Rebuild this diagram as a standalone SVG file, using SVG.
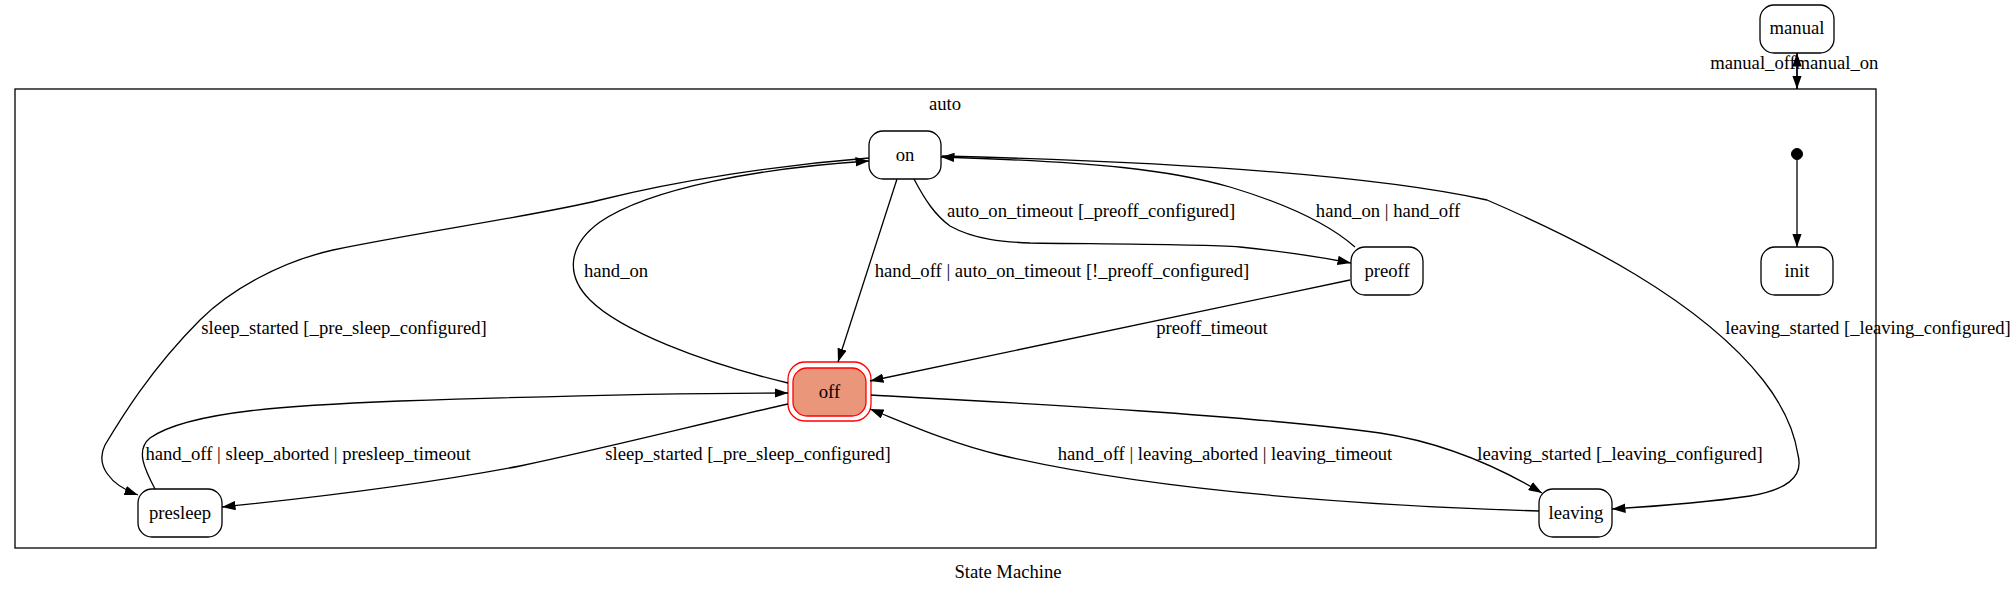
<svg xmlns="http://www.w3.org/2000/svg" width="2015" height="595" viewBox="0 0 2015 595">
<style>
text{font-family:"Liberation Serif","Times New Roman",serif;font-size:18.67px;fill:#000;text-anchor:middle}
.node{fill:#fff;stroke:#000;stroke-width:1.3}
.edge{fill:none;stroke:#000;stroke-width:1.3}
.cluster{fill:none;stroke:#000;stroke-width:1.3}
</style>
<defs>
<marker id="ah" viewBox="0 0 10 10" refX="10" refY="5" markerUnits="userSpaceOnUse" markerWidth="13.5" markerHeight="9.5" orient="auto" preserveAspectRatio="none">
<path d="M0,0 L10,5 L0,10 z" fill="#000"/>
</marker>
</defs>
<rect width="2015" height="595" fill="#fff"/>
<text x="1008" y="578">State Machine</text>

<g id="cluster_auto">
<rect class="cluster" x="15" y="89" width="1861" height="459"/>
<text x="945" y="110">auto</text>
</g>

<g id="manual"><rect class="node" x="1760" y="5" width="74" height="48" rx="14"/><text x="1797" y="34">manual</text></g>
<g id="start"><circle cx="1797" cy="154" r="5.5" fill="#000" stroke="#000"/></g>
<g id="init"><rect class="node" x="1761" y="247" width="72" height="48" rx="14"/><text x="1797" y="277">init</text></g>
<g id="on"><rect class="node" x="869" y="131" width="72" height="48" rx="14"/><text x="905" y="161">on</text></g>
<g id="preoff"><rect class="node" x="1351" y="247" width="72" height="48" rx="14"/><text x="1387" y="277">preoff</text></g>
<g id="off">
<rect x="788" y="362" width="83" height="59" rx="17" fill="none" stroke="#ff0000" stroke-width="1.3"/>
<rect x="793" y="368" width="73" height="48" rx="14" fill="#e9967a" stroke="#ff0000" stroke-width="1.3"/>
<text x="829.5" y="398">off</text>
</g>
<g id="presleep"><rect class="node" x="138" y="489" width="84" height="48" rx="14"/><text x="180" y="519">presleep</text></g>
<g id="leaving"><rect class="node" x="1539" y="489" width="73" height="48" rx="14"/><text x="1576" y="519">leaving</text></g>

<g id="edges">
<path class="edge" d="M1797,160 L1797,247" marker-end="url(#ah)"/>
<path class="edge" d="M1797,89 L1797,53" marker-end="url(#ah)"/>
<path class="edge" d="M1797,53 L1797,89" marker-end="url(#ah)"/>
<text x="1753" y="69">manual_off</text>
<text x="1837" y="69">manual_on</text>

<path class="edge" d="M897,179 L838,362" marker-end="url(#ah)"/>
<text x="1062" y="277">hand_off | auto_on_timeout [!_preoff_configured]</text>

<path class="edge" d="M914,179 C925,200 935,215 950,226 C975,240 1005,242 1030,243 C1100,244 1200,244 1240,247 C1280,251 1320,257 1351,263" marker-end="url(#ah)"/>
<text x="1091" y="217">auto_on_timeout [_preoff_configured]</text>

<path class="edge" d="M1355,247 C1330,225 1290,205 1230,187 C1170,170 1100,162 941,157" marker-end="url(#ah)"/>
<text x="1388" y="217">hand_on | hand_off</text>

<path class="edge" d="M942,156 C1100,160 1350,170 1487,200 C1580,240 1700,300 1763,380 C1785,408 1795,435 1798,455 C1804,478 1785,490 1750,496 C1710,502 1660,506 1612,509" marker-end="url(#ah)"/>
<text x="1868" y="334">leaving_started [_leaving_configured]</text>

<path class="edge" d="M871,395 C1000,402 1250,415 1380,433 C1440,442 1495,465 1542,493" marker-end="url(#ah)"/>
<text x="1620" y="460">leaving_started [_leaving_configured]</text>

<path class="edge" d="M1539,511 C1350,505 1150,490 1000,455 C950,443 910,425 870,409" marker-end="url(#ah)"/>
<text x="1225" y="460">hand_off | leaving_aborted | leaving_timeout</text>

<path class="edge" d="M1350,280 L870,381" marker-end="url(#ah)"/>
<text x="1212" y="334">preoff_timeout</text>

<path class="edge" d="M788,383 C700,362 620,330 590,300 C565,275 568,245 600,222 C650,188 760,168 869,161" marker-end="url(#ah)"/>
<text x="616" y="277">hand_on</text>

<path class="edge" d="M869,158 C780,165 680,180 600,200 C540,215 420,232 333,250 C280,262 230,290 200,320 C150,370 120,420 105,445 C95,465 110,485 138,495" marker-end="url(#ah)"/>
<text x="344" y="334">sleep_started [_pre_sleep_configured]</text>

<path class="edge" d="M155,489 C145,470 135,450 150,438 C190,410 300,405 400,401 C550,396 680,393 788,393" marker-end="url(#ah)"/>
<text x="308" y="460">hand_off | sleep_aborted | presleep_timeout</text>

<path class="edge" d="M788,404 C700,424 610,447 520,466 C420,485 320,497 222,507" marker-end="url(#ah)"/>
<text x="748" y="460">sleep_started [_pre_sleep_configured]</text>
</g>
</svg>
